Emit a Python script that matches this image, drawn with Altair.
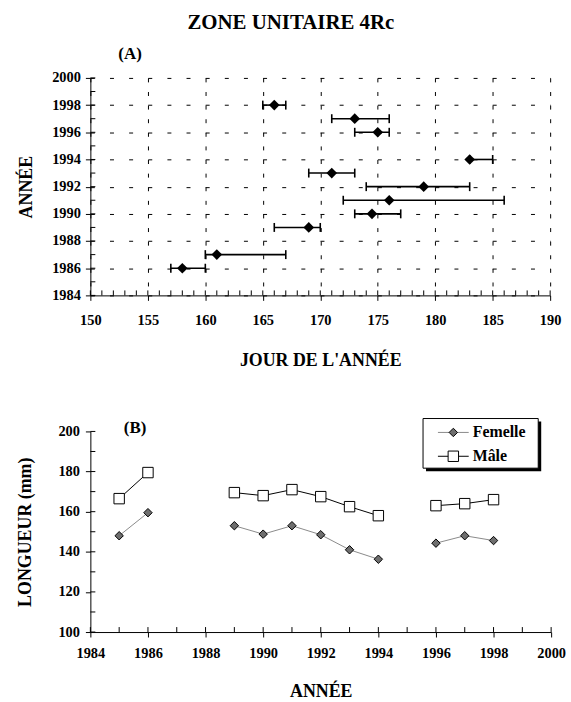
import altair as alt
import pandas as pd

FONT = "Liberation Serif"

# ---------------- Panel A data ----------------
A_YEARS = [1986, 1987, 1989, 1990, 1991, 1992, 1993, 1994, 1996, 1997, 1998]
A_DAY = [158, 161, 169, 174.5, 176, 179, 171, 183, 175, 173, 166]
A_LOW = [157, 160, 166, 173, 172, 174, 169, 183, 173, 171, 165]
A_HIGH = [160, 167, 170, 177, 186, 183, 173, 185, 176, 176, 167]
A_DAY_LABELS = [150, 155, 160, 165, 170, 175, 180, 185, 190]
A_YEAR_LABELS = [1984, 1986, 1988, 1990, 1992, 1994, 1996, 1998, 2000]
A_DAY_MINOR = list(range(150, 191))
A_YEAR_MINOR = list(range(1984, 2001))

# ---------------- Panel B data ----------------
B_YEARS = [1985, 1986, 1989, 1990, 1991, 1992, 1993, 1994, 1996, 1997, 1998]
B_FEMALE = [148, 159.5, 153, 148.8, 153, 148.5, 141, 136.3, 144.3, 148, 145.6]
B_MALE = [166.5, 179.5, 169.5, 168, 171, 167.5, 162.5, 158, 163, 164, 166]
B_SEGMENT = [1, 1, 2, 2, 2, 2, 2, 2, 3, 3, 3]
B_SERIES = ["Femelle", "Mâle"]
B_YEAR_LABELS = [1984, 1986, 1988, 1990, 1992, 1994, 1996, 1998, 2000]
B_LEN_LABELS = [100, 120, 140, 160, 180, 200]
B_YEAR_MINOR = list(range(1984, 2001))
B_LEN_MINOR = list(range(100, 201, 10))

AW, AH = 463, 219
BW, BH = 464, 202

# ---------------- Panel A ----------------
dfA = pd.DataFrame({"annee": A_YEARS, "jour": A_DAY, "bas": A_LOW, "haut": A_HIGH})

xscaleA = alt.Scale(domain=[150, 190], nice=False, zero=False)
yscaleA = alt.Scale(domain=[1984, 2000], nice=False, zero=False)

xaxisA = alt.Axis(values=A_DAY_LABELS, title="JOUR DE L'ANNÉE", grid=True,
                  gridDash=[4, 9.7], gridColor="black", gridWidth=1,
                  labelPadding=13, titlePadding=25, labelFlush=False,
                  labelOverlap=False)
yaxisA = alt.Axis(values=A_YEAR_LABELS, format="d", title="ANNÉE", grid=True,
                  gridDash=[4, 15.27], gridColor="black", gridWidth=1,
                  labelPadding=5, titlePadding=16, labelFlush=False,
                  labelOverlap=False)

xA_day = alt.X("jour:Q", scale=xscaleA, axis=xaxisA)
yA_year = alt.Y("annee:Q", scale=yscaleA, axis=yaxisA)

ticksA_left = alt.Chart(pd.DataFrame({"annee": A_YEAR_MINOR})).mark_rule(
    color="black", strokeWidth=1).encode(
    y=yA_year, x=alt.value(0), x2=alt.value(5))
ticksA_bottom = alt.Chart(pd.DataFrame({"jour": A_DAY_MINOR})).mark_rule(
    color="black", strokeWidth=1).encode(
    x=xA_day, y=alt.value(AH), y2=alt.value(AH - 5))

errA = alt.Chart(dfA).mark_rule(color="black", strokeWidth=1.6).encode(
    x=alt.X("bas:Q", scale=xscaleA, axis=xaxisA), x2="haut:Q", y=yA_year)
capLowA = alt.Chart(dfA).mark_tick(orient="vertical", color="black", size=9,
                                   thickness=1.6, opacity=1).encode(
    x=alt.X("bas:Q", scale=xscaleA, axis=xaxisA), y=yA_year)
capHighA = alt.Chart(dfA).mark_tick(orient="vertical", color="black", size=9,
                                    thickness=1.6, opacity=1).encode(
    x=alt.X("haut:Q", scale=xscaleA, axis=xaxisA), y=yA_year)
ptsA = alt.Chart(dfA).mark_point(shape="diamond", filled=True, color="black",
                                 size=115, opacity=1).encode(x=xA_day, y=yA_year)
labelA = alt.Chart(pd.DataFrame({"t": ["(A)"]})).mark_text(
    font=FONT, fontSize=17, fontWeight="bold", color="black",
    baseline="middle", align="center").encode(
    text="t:N", x=alt.value(40), y=alt.value(-24))

panelA = alt.layer(ticksA_left, ticksA_bottom, errA, capLowA, capHighA, ptsA,
                   labelA).properties(width=AW, height=AH)

# ---------------- Panel B ----------------
rows = []
for i, yr in enumerate(B_YEARS):
    rows.append({"annee": yr, "longueur": B_FEMALE[i], "sexe": B_SERIES[0], "seg": B_SEGMENT[i]})
    rows.append({"annee": yr, "longueur": B_MALE[i], "sexe": B_SERIES[1], "seg": B_SEGMENT[i]})
dfB = pd.DataFrame(rows)

xscaleB = alt.Scale(domain=[1984, 2000], nice=False, zero=False)
yscaleB = alt.Scale(domain=[100, 200], nice=False, zero=False)
xaxisB = alt.Axis(values=B_YEAR_LABELS, format="d", title="ANNÉE", grid=False,
                  labelPadding=10, titlePadding=22, labelFlush=False,
                  labelOverlap=False)
yaxisB = alt.Axis(values=B_LEN_LABELS, title="LONGUEUR (mm)", grid=False,
                  labelPadding=6, titlePadding=24, labelFlush=False,
                  labelOverlap=False)
xB = alt.X("annee:Q", scale=xscaleB, axis=xaxisB)
yB = alt.Y("longueur:Q", scale=yscaleB, axis=yaxisB)

ticksB_left = alt.Chart(pd.DataFrame({"longueur": B_LEN_MINOR})).mark_rule(
    color="black", strokeWidth=1).encode(y=yB, x=alt.value(0), x2=alt.value(5))
ticksB_bottom = alt.Chart(pd.DataFrame({"annee": B_YEAR_MINOR})).mark_rule(
    color="black", strokeWidth=1).encode(x=xB, y=alt.value(BH), y2=alt.value(BH - 5))

SHAPES = ["diamond", "square"]
FILLS = ["#6e6e6e", "white"]
LINES = ["#8a8a8a", "black"]
SIZES = [72, 110]

shapeB = alt.Shape("sexe:N", scale=alt.Scale(domain=B_SERIES, range=SHAPES), legend=None)
fillB = alt.Fill("sexe:N", scale=alt.Scale(domain=B_SERIES, range=FILLS), legend=None)

line_f = alt.Chart(dfB).transform_filter(alt.datum.sexe == B_SERIES[0]).mark_line(
    strokeWidth=1, color=LINES[0]).encode(x=xB, y=yB, detail="seg:N")
line_m = alt.Chart(dfB).transform_filter(alt.datum.sexe == B_SERIES[1]).mark_line(
    strokeWidth=1, color=LINES[1]).encode(x=xB, y=yB, detail="seg:N")
pts_f = alt.Chart(dfB).transform_filter(alt.datum.sexe == B_SERIES[0]).mark_point(
    filled=True, stroke="black", strokeWidth=1, opacity=1, size=SIZES[0]).encode(
    x=xB, y=yB, shape=shapeB, fill=fillB)
pts_m = alt.Chart(dfB).transform_filter(alt.datum.sexe == B_SERIES[1]).mark_point(
    filled=True, stroke="black", strokeWidth=1, opacity=1, size=SIZES[1]).encode(
    x=xB, y=yB, shape=shapeB, fill=fillB)

# legend box (drawn with a drop shadow, as in the original figure)
one = pd.DataFrame({"k": [0]})
LX0, LX1, LY0, LY1 = 335, 451, -13, 37
leg_shadow = alt.Chart(one).mark_rect(color="black").encode(
    x=alt.value(LX0 + 3), x2=alt.value(LX1 + 3), y=alt.value(LY0 + 3), y2=alt.value(LY1 + 3))
leg_frame = alt.Chart(one).mark_rect(fill="white", stroke="black", strokeWidth=1).encode(
    x=alt.value(LX0), x2=alt.value(LX1), y=alt.value(LY0), y2=alt.value(LY1))

leg_layers = []
for i, name in enumerate(B_SERIES):
    ly = LY0 + 14 + 24 * i
    d = pd.DataFrame({"sexe": [name]})
    leg_layers.append(alt.Chart(d).mark_rule(color=LINES[i], strokeWidth=1).encode(
        x=alt.value(LX0 + 15), x2=alt.value(LX0 + 46), y=alt.value(ly)))
    leg_layers.append(alt.Chart(d).mark_point(
        shape=SHAPES[i], filled=True, fill=FILLS[i], stroke="black", strokeWidth=1,
        opacity=1, size=SIZES[i]).encode(x=alt.value(LX0 + 30.5), y=alt.value(ly)))
    leg_layers.append(alt.Chart(d).mark_text(
        font=FONT, fontSize=16, fontWeight="bold", color="black", align="left",
        baseline="middle").encode(text="sexe:N", x=alt.value(LX0 + 50), y=alt.value(ly)))

labelB = alt.Chart(pd.DataFrame({"t": ["(B)"]})).mark_text(
    font=FONT, fontSize=17, fontWeight="bold", color="black",
    baseline="middle", align="center").encode(
    text="t:N", x=alt.value(45), y=alt.value(-3))

panelB = alt.layer(ticksB_left, ticksB_bottom, line_f, line_m, pts_f, pts_m,
                   leg_shadow, leg_frame, *leg_layers,
                   labelB).properties(width=BW, height=BH)

chart = alt.vconcat(panelA, panelB, spacing=48).properties(
    title=alt.TitleParams("ZONE UNITAIRE 4Rc", font=FONT, fontSize=21,
                          fontWeight="bold", anchor="middle", color="black",
                          offset=12),
    padding={"left": 16, "top": 10, "right": 5, "bottom": 0},
    background="white",
).configure_view(stroke=None).configure_axis(
    labelFont=FONT, labelFontSize=14.5, labelFontWeight="bold", labelColor="black",
    titleFont=FONT, titleFontSize=18, titleFontWeight="bold", titleColor="black",
    domainColor="black", domainWidth=1, tickColor="black", tickSize=5, tickWidth=1,
)

chart.save("out.html", embed_options={"renderer": "svg", "actions": False})
